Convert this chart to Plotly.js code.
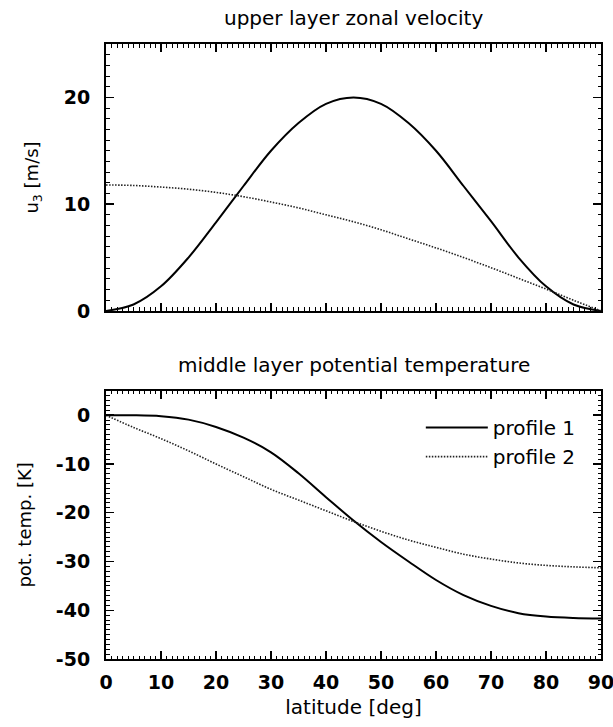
<!DOCTYPE html>
<html>
<head>
<meta charset="utf-8">
<script src="https://cdn.plot.ly/plotly-3.0.1.min.js"></script>
<style>html,body{margin:0;padding:0;background:#fff;}#chart{width:613px;height:727px;}</style>
</head>
<body>
<div id="chart"></div>
<script>
// latitude grid (deg)
const latitude = [0,5,10,15,20,25,30,35,40,45,50,55,60,65,70,75,80,85,90];

// upper layer zonal velocity u3 [m/s]
const u3Profile1 = [0,0.6,2.3,5.0,8.3,11.7,15.0,17.6,19.4,20.0,19.4,17.6,15.0,11.7,8.4,5.0,2.3,0.6,0];
const u3Profile2 = [11.8,11.75,11.6,11.4,11.1,10.7,10.2,9.65,9.0,8.35,7.6,6.75,5.9,5.0,4.05,3.05,2.05,1.0,0];

// middle layer potential temperature [K]
const thetaProfile1 = [0,0,-0.2,-0.9,-2.4,-4.6,-7.6,-11.9,-16.8,-21.6,-26.0,-30.0,-33.8,-36.9,-39.1,-40.6,-41.3,-41.6,-41.7];
const thetaProfile2 = [0,-2.5,-4.8,-7.3,-10.0,-12.6,-15.2,-17.4,-19.6,-21.8,-23.8,-25.6,-27.1,-28.5,-29.5,-30.3,-30.8,-31.1,-31.3];

const seriesNames = ['profile 1','profile 2'];
const xTicks = [0,10,20,30,40,50,60,70,80,90];
const yTicksTop = [0,10,20];
const yTicksBottom = [0,-10,-20,-30,-40,-50];

const FONT = 'DejaVu Sans, Verdana, sans-serif';
const solid = {color:'#000', width:2, dash:'solid'};
const dotted = {color:'#222', width:1.6, dash:'1.5px,1.5px'};

const traces = [
  {x: latitude, y: u3Profile1, xaxis:'x', yaxis:'y', mode:'lines', line:Object.assign({shape:'spline'}, solid), showlegend:false, name:seriesNames[0]},
  {x: latitude, y: u3Profile2, xaxis:'x', yaxis:'y', mode:'lines', line:Object.assign({shape:'spline'}, dotted), showlegend:false, name:seriesNames[1]},
  {x: latitude, y: thetaProfile1, xaxis:'x2', yaxis:'y2', mode:'lines', line:Object.assign({shape:'spline'}, solid), name:seriesNames[0]},
  {x: latitude, y: thetaProfile2, xaxis:'x2', yaxis:'y2', mode:'lines', line:Object.assign({shape:'spline'}, dotted), name:seriesNames[1]}
];

function xAxis(showLabels, anchor){
  return {
    range:[0,90], tickvals:xTicks, ticktext:xTicks.map(String), showticklabels:showLabels,
    ticks:'inside', ticklen:8, tickwidth:1.5, tickcolor:'#000', mirror:'allticks',
    showline:true, linecolor:'#000', linewidth:2, showgrid:false, zeroline:false,
    minor:{dtick:1, ticks:'inside', ticklen:3.5, tickwidth:1, tickcolor:'#000', showgrid:false},
    tickfont:{family:FONT, size:19, color:'#000', weight:'bold'}, ticklabelstandoff:5,
    ticklabeloverflow:'allow',
    anchor:anchor, fixedrange:true
  };
}
function yAxis(range, ticks, domain, anchor, title){
  return {
    range:range, tickvals:ticks, ticktext:ticks.map(String), domain:domain,
    ticks:'inside', ticklen:8, tickwidth:1.5, tickcolor:'#000', mirror:'allticks',
    showline:true, linecolor:'#000', linewidth:2, showgrid:false, zeroline:false,
    minor:{dtick:1, ticks:'inside', ticklen:3.5, tickwidth:1, tickcolor:'#000', showgrid:false},
    tickfont:{family:FONT, size:19, color:'#000', weight:'bold'}, ticklabelstandoff:10,
    ticklabeloverflow:'allow',
    title:{text:title, font:{family:FONT, size:18, color:'#000'}, standoff:20},
    anchor:anchor, fixedrange:true
  };
}

const layout = {
  width:613, height:727,
  margin:{l:106, r:12, t:44, b:68},
  paper_bgcolor:'#fff', plot_bgcolor:'#fff',
  font:{family:FONT, color:'#000'},
  xaxis: xAxis(false, 'y'),
  yaxis: yAxis([0,25], yTicksTop, [0.566,1], 'x', 'u<sub>3</sub> [m/s]'),
  xaxis2: Object.assign(xAxis(true, 'y2'), {title:{text:'latitude [deg]', font:{family:FONT, size:20, color:'#000'}, standoff:8}}),
  yaxis2: yAxis([-50,5], yTicksBottom, [0,0.436], 'x2', 'pot. temp. [K]'),
  legend:{x:0.636, y:0.408, xanchor:'left', yanchor:'top', bgcolor:'rgba(0,0,0,0)',
          font:{family:FONT, size:20, color:'#000'}, itemwidth:62, tracegroupgap:0},
  annotations:[
    {text:'upper layer zonal velocity', xref:'paper', yref:'paper', x:0.5, y:1.0423, xanchor:'center', yanchor:'middle', showarrow:false, font:{family:FONT, size:20, color:'#000'}},
    {text:'middle layer potential temperature', xref:'paper', yref:'paper', x:0.5, y:0.478, xanchor:'center', yanchor:'middle', showarrow:false, font:{family:FONT, size:20, color:'#000'}}
  ]
};

Plotly.newPlot('chart', traces, layout, {staticPlot:true, displayModeBar:false});
</script>
</body>
</html>
